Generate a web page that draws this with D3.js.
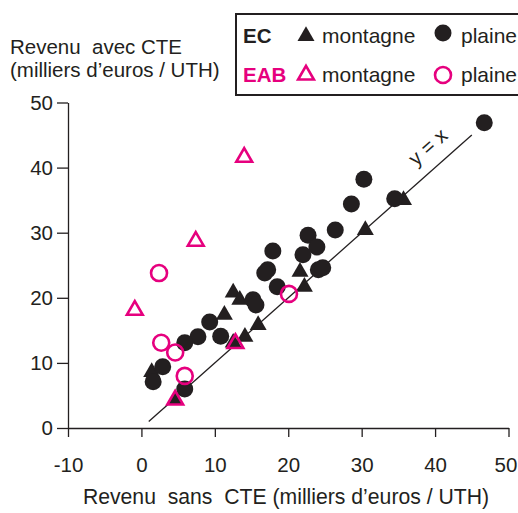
<!DOCTYPE html>
<html>
<head>
<meta charset="utf-8">
<script src="https://cdn.jsdelivr.net/npm/d3@7"></script>
<style>
  html, body { margin: 0; padding: 0; background: #fff; }
  svg text { font-family: "Liberation Sans", Arial, sans-serif; fill: #231f20; white-space: pre; }
</style>
</head>
<body>
<div id="chart"></div>
<script>
// Data: [revenu sans CTE, revenu avec CTE]
const ecPlaine = [
  [46.7, 46.9], [30.3, 38.2], [28.6, 34.4], [34.5, 35.2], [26.4, 30.4],
  [22.7, 29.6], [23.9, 27.8], [22.0, 26.6], [24.1, 24.3], [24.7, 24.6],
  [17.9, 27.2], [17.2, 24.3], [16.8, 23.8], [18.5, 21.7], [15.2, 19.7],
  [15.6, 18.9], [9.3, 16.3], [7.7, 14.0], [10.8, 14.1], [5.9, 13.1],
  [2.9, 9.4], [1.6, 7.1], [5.9, 6.0]
];
const ecMontagne = [
  [12.5, 20.8], [13.4, 19.7], [11.3, 17.4], [12.5, 13.1], [14.1, 14.0],
  [15.9, 15.8], [21.6, 24.0], [22.2, 21.7], [30.5, 30.4], [35.7, 35.0],
  [4.6, 4.3], [1.4, 8.6]
];
const eabPlaine = [[2.4, 23.8], [2.7, 13.1], [4.6, 11.6], [5.9, 8.0], [20.1, 20.6]];
const eabMontagne = [[14.0, 41.6], [7.4, 28.7], [-0.9, 18.1], [12.8, 13.0], [4.6, 4.3]];

const xTicks = [-10, 0, 10, 20, 30, 40, 50];
const yTicks = [0, 10, 20, 30, 40, 50];
const diagonal = [1, 45]; // y = x line

const width = 518, height = 513;
const ink = '#231f20';
const pink = '#e6007e';
const fontSize = 20.5;
const legendSize = 21;

const svg = d3.select('#chart').append('svg')
  .attr('width', width)
  .attr('height', height);

const x = d3.scaleLinear().domain([-10, 50]).range([68, 508.5]);
const y = d3.scaleLinear().domain([0, 50]).range([428, 102.5]);

// Axes (plain hyphen for negatives, like the original)
const xAxis = svg.append('g')
  .attr('transform', `translate(0,${y(0)})`)
  .call(d3.axisBottom(x).tickValues(xTicks).tickFormat(d => String(d))
    .tickSize(9).tickSizeOuter(0).tickPadding(20));
const yAxis = svg.append('g')
  .attr('transform', `translate(${x(-10)},0)`)
  .call(d3.axisLeft(y).tickValues(yTicks).tickFormat(d => String(d))
    .tickSize(11).tickSizeOuter(0).tickPadding(4));

[xAxis, yAxis].forEach(g => {
  g.selectAll('path, line').attr('stroke', ink).attr('stroke-width', 1.3);
  g.selectAll('text').style('font-size', fontSize + 'px').attr('fill', ink);
});
// last x label sits against the right edge
xAxis.selectAll('.tick:last-of-type text').attr('dx', -3);

// Diagonal y = x
svg.append('line')
  .attr('x1', x(diagonal[0])).attr('y1', y(diagonal[0]))
  .attr('x2', x(diagonal[1])).attr('y2', y(diagonal[1]))
  .attr('stroke', ink).attr('stroke-width', 1.3);

const angle = Math.atan2(y(diagonal[0]) - y(diagonal[1]), x(diagonal[1]) - x(diagonal[0])) * 180 / Math.PI;
svg.append('text')
  .attr('transform', `translate(${x(41) - 10},${y(41) - 9}) rotate(${-angle})`)
  .attr('text-anchor', 'middle')
  .style('font-size', fontSize + 'px')
  .text('y = x');

// Markers
const triBlack = d3.symbol().type(d3.symbolTriangle).size(125);
const triOpen = d3.symbol().type(d3.symbolTriangle).size(108);

svg.selectAll('.ec-m')
  .data(ecMontagne).enter().append('path')
  .attr('transform', d => `translate(${x(d[0])},${y(d[1])})`)
  .attr('d', triBlack)
  .attr('fill', ink);

svg.selectAll('.ec-p')
  .data(ecPlaine).enter().append('circle')
  .attr('cx', d => x(d[0])).attr('cy', d => y(d[1]))
  .attr('r', 8.5)
  .attr('fill', ink);

svg.selectAll('.eab-m')
  .data(eabMontagne).enter().append('path')
  .attr('transform', d => `translate(${x(d[0])},${y(d[1])})`)
  .attr('d', triOpen)
  .attr('fill', 'none').attr('stroke', pink).attr('stroke-width', 2.6);

svg.selectAll('.eab-p')
  .data(eabPlaine).enter().append('circle')
  .attr('cx', d => x(d[0])).attr('cy', d => y(d[1]))
  .attr('r', 8)
  .attr('fill', 'none').attr('stroke', pink).attr('stroke-width', 2.6);

// Axis titles
const yTitle = svg.append('text').attr('x', 10).style('font-size', fontSize + 'px');
yTitle.append('tspan').attr('x', 10).attr('y', 54).text('Revenu  avec CTE');
yTitle.append('tspan').attr('x', 10).attr('y', 77).text('(milliers d\u2019euros / UTH)');

svg.append('text')
  .attr('x', 286).attr('y', 504)
  .attr('text-anchor', 'middle')
  .style('font-size', '21.2px')
  .text('Revenu  sans  CTE (milliers d\u2019euros / UTH)');

// Legend
const legend = svg.append('g');
legend.append('rect')
  .attr('x', 236).attr('y', 14).attr('width', 300).attr('height', 81)
  .attr('fill', '#fff').attr('stroke', ink).attr('stroke-width', 2);

const rows = [
  { label: 'EC', color: ink, y: 36, filled: true },
  { label: 'EAB', color: pink, y: 75, filled: false }
];
rows.forEach(r => {
  legend.append('text')
    .attr('x', 243).attr('y', r.y + 7)
    .style('font-size', fontSize + 'px').style('font-weight', 'bold')
    .style('fill', r.color)
    .text(r.label);
  legend.append('path')
    .attr('transform', `translate(306,${r.y})`)
    .attr('d', r.filled ? triBlack : triOpen)
    .attr('fill', r.filled ? ink : 'none')
    .attr('stroke', r.filled ? 'none' : pink).attr('stroke-width', 2.6);
  legend.append('text')
    .attr('x', 322).attr('y', r.y + 7)
    .style('font-size', legendSize + 'px')
    .text('montagne');
  legend.append('circle')
    .attr('cx', 443).attr('cy', r.filled ? r.y - 3 : r.y)
    .attr('r', r.filled ? 8.5 : 8)
    .attr('fill', r.filled ? ink : 'none')
    .attr('stroke', r.filled ? 'none' : pink).attr('stroke-width', 2.6);
  legend.append('text')
    .attr('x', 461).attr('y', r.y + 7)
    .style('font-size', legendSize + 'px')
    .text('plaine');
});
</script>
</body>
</html>
